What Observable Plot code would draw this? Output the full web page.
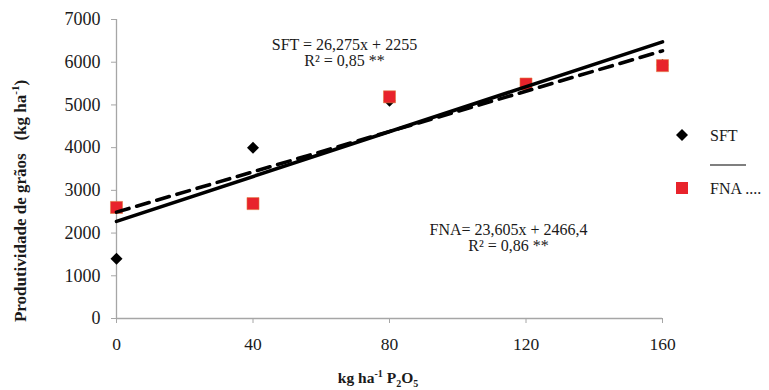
<!DOCTYPE html>
<html>
<head>
<meta charset="utf-8">
<script src="https://cdn.jsdelivr.net/npm/d3@7"></script>
<script src="https://cdn.jsdelivr.net/npm/@observablehq/plot@0.6"></script>
<style>
  html, body { margin: 0; padding: 0; background: #fff; }
  #chart { width: 769px; height: 390px; }
</style>
</head>
<body>
<div id="chart"></div>
<script>
// ---- data ----
const doses = [0, 40, 80, 120, 160];              // kg ha-1 P2O5
const sft   = [1400, 4000, 5100, 5440, 5935];     // SFT yields (kg/ha)
const fna   = [2600, 2690, 5190, 5490, 5920];     // FNA yields (kg/ha)
const xTicks = [0, 40, 80, 120, 160];
const yTicks = [0, 1000, 2000, 3000, 4000, 5000, 6000, 7000];
const eqSFT = ["SFT = 26,275x + 2255", "R\u00B2 = 0,85 **"];
const eqFNA = ["FNA= 23,605x + 2466,4", "R\u00B2 = 0,86 **"];
const seriesNames = ["SFT", "FNA ...."];

const sftData = doses.map((d, i) => ({x: d, y: sft[i]}));
const fnaData = doses.map((d, i) => ({x: d, y: fna[i]}));

const serif = "'Liberation Serif', 'Times New Roman', Times, serif";
const axisGray = "#a6a6a6";

const chart = Plot.plot({
  width: 769,
  height: 390,
  marginLeft: 116,
  marginRight: 107,
  marginTop: 19,
  marginBottom: 72,
  style: {fontFamily: serif, fontSize: "17px", color: "#1a1a1a", background: "#fff", overflow: "visible"},
  x: {domain: [0, 160]},
  y: {domain: [0, 7000]},
  marks: [
    Plot.ruleY([0], {stroke: axisGray, strokeWidth: 1.3}),
    Plot.ruleX([0], {stroke: axisGray, strokeWidth: 1.3}),
    Plot.axisX({ticks: xTicks, tickSize: 5, tickPadding: 14, tickFormat: d3.format("d"), stroke: axisGray, fill: "#1a1a1a", label: null, fontSize: 17.5}),
    Plot.axisY({ticks: yTicks, tickSize: 5, tickPadding: 11, tickFormat: d3.format("d"), stroke: axisGray, fill: "#1a1a1a", label: null, fontSize: 18}),
    Plot.dot(sftData, {x: "x", y: "y", symbol: "diamond2", r: 5.4, fill: "#000", stroke: "none"}),
    Plot.dot(fnaData, {x: "x", y: "y", symbol: "square", r: 6.8, fill: "#e8232b", stroke: "#e07a40", strokeWidth: 0.6}),
    Plot.linearRegressionY(sftData, {x: "x", y: "y", stroke: "#000", strokeWidth: 3.6, ci: 0}),
    Plot.linearRegressionY(fnaData, {x: "x", y: "y", stroke: "#000", strokeWidth: 3.6, strokeDasharray: "13,8", ci: 0}),
    Plot.text([eqSFT[0]], {x: [66.8], y: [6395], fontSize: 16, fill: "#1a1a1a"}),
    Plot.text([eqSFT[1]], {x: [66.8], y: [6020], fontSize: 16, fill: "#1a1a1a"}),
    Plot.text([eqFNA[0]], {x: [114.9], y: [2075], fontSize: 16, fill: "#1a1a1a"}),
    Plot.text([eqFNA[1]], {x: [114.9], y: [1700], fontSize: 16, fill: "#1a1a1a"})
  ]
});

document.getElementById("chart").appendChild(chart);

// ---- titles & legend (decoration) ----
const svg = d3.select(chart);

// Y axis title
const yt = svg.append("text")
  .attr("transform", "translate(26,201) rotate(-90)")
  .attr("text-anchor", "middle")
  .attr("font-family", serif)
  .attr("font-weight", "bold")
  .attr("font-size", 17)
  .attr("fill", "#1a1a1a");
yt.append("tspan").text("Produtividade de grãos\u00A0\u00A0\u00A0(kg ha");
yt.append("tspan").attr("font-size", 11).attr("dy", -7).text("-1");
yt.append("tspan").attr("dy", 7).text(")");

// X axis title
const xt = svg.append("text")
  .attr("x", 378).attr("y", 383)
  .attr("text-anchor", "middle")
  .attr("font-family", serif)
  .attr("font-weight", "bold")
  .attr("font-size", 15.5)
  .attr("fill", "#1a1a1a");
xt.append("tspan").text("kg ha");
xt.append("tspan").attr("font-size", 10).attr("dy", -6).text("-1");
xt.append("tspan").attr("dy", 6).text("\u00A0P");
xt.append("tspan").attr("font-size", 10).attr("dy", 4).text("2");
xt.append("tspan").attr("dy", -4).text("O");
xt.append("tspan").attr("font-size", 10).attr("dy", 4).text("5");

// Legend
const lg = svg.append("g").attr("font-family", serif).attr("font-size", 16).attr("fill", "#1a1a1a").attr("text-anchor", "start");
lg.append("path").attr("d", "M682,129L688,135L682,141L676,135Z").attr("fill", "#000");
lg.append("text").attr("x", 710).attr("y", 141).attr("text-anchor", "start").text(seriesNames[0]);
lg.append("line").attr("x1", 710).attr("x2", 746).attr("y1", 165).attr("y2", 165).attr("stroke", "#000").attr("stroke-width", 1.2);
lg.append("rect").attr("x", 676).attr("y", 182).attr("width", 12).attr("height", 12).attr("fill", "#e8232b");
lg.append("text").attr("x", 710).attr("y", 194).attr("text-anchor", "start").text(seriesNames[1]);
</script>
</body>
</html>
